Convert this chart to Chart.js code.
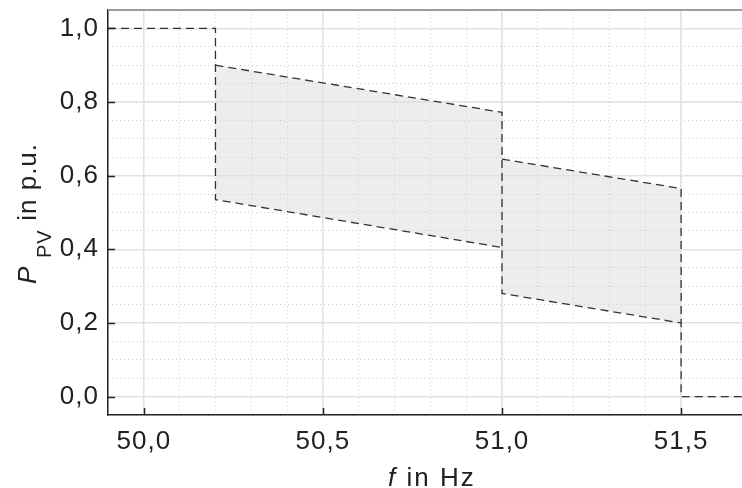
<!DOCTYPE html>
<html>
<head>
<meta charset="utf-8">
<script src="https://cdn.jsdelivr.net/npm/chart.js@4"></script>
<style>
  html, body { margin: 0; padding: 0; background: #fff; }
</style>
</head>
<body>
<canvas id="pvChart" width="742" height="488"></canvas>
<script>
// Achsenbereiche und Beschriftungen
const freqRange = [49.9, 51.67];
const powerRange = [-0.05, 1.05];
const xTicks = [50.0, 50.5, 51.0, 51.5];
const yTicks = [0.0, 0.2, 0.4, 0.6, 0.8, 1.0];

// Band (Frequenz, obere und untere Grenze)
const bandFreq = [50.2, 51.0, 51.0, 51.5];
const bandUpper = [0.9, 0.772, 0.645, 0.565];
const bandLower = [0.535, 0.405, 0.28, 0.2];

// Stufen vor und nach dem Band
const startPower = 1.0;
const endPower = 0.0;

const FONT = '"Liberation Sans", Arial, sans-serif';
const TEXT = '#222';
const SPACING = '1px';

const pts = (ys) => bandFreq.map((f, i) => ({ x: f, y: ys[i] }));
const fmt = (v) => v.toFixed(1).replace('.', ',');

// gestrichelte Umrandung: untere Kurve inkl. Stufen
const outlineLower = [
  { x: freqRange[0], y: startPower },
  { x: bandFreq[0], y: startPower },
  ...pts(bandLower),
  { x: bandFreq[3], y: endPower },
  { x: freqRange[1], y: endPower },
];
// obere Kurve inkl. senkrechter Sprünge
const outlineUpper = [
  { x: bandFreq[0], y: bandUpper[0] },
  { x: bandFreq[1], y: bandUpper[1] },
  { x: bandFreq[1], y: bandLower[1] },
  { x: bandFreq[1], y: null },
  { x: bandFreq[2], y: bandUpper[2] },
  { x: bandFreq[3], y: bandUpper[3] },
  { x: bandFreq[3], y: bandLower[3] },
];

const dashed = {
  borderColor: '#333',
  borderWidth: 1.3,
  borderDash: [8, 5],
  pointRadius: 0,
  fill: false,
  spanGaps: false,
};

// etwas breitere Schrift wie im Original
const spacingPlugin = {
  id: 'spacing',
  beforeUpdate(chart) { chart.ctx.letterSpacing = SPACING; },
  beforeDraw(chart) { chart.ctx.letterSpacing = SPACING; },
};

const decorPlugin = {
  id: 'decor',
  afterDraw(chart) {
    const { ctx, chartArea: a, scales: { x, y } } = chart;
    ctx.save();
    // oberer Rahmen
    ctx.strokeStyle = '#9c9c9c';
    ctx.lineWidth = 2;
    ctx.beginPath();
    ctx.moveTo(a.left, a.top);
    ctx.lineTo(a.right, a.top);
    ctx.stroke();
    // Ticks nach innen
    ctx.strokeStyle = TEXT;
    ctx.lineWidth = 1.5;
    ctx.beginPath();
    xTicks.forEach(v => {
      const px = Math.round(x.getPixelForValue(v)) + 0.5;
      ctx.moveTo(px, a.bottom);
      ctx.lineTo(px, a.bottom - 7);
    });
    yTicks.forEach(v => {
      const py = Math.round(y.getPixelForValue(v)) + 0.5;
      ctx.moveTo(a.left, py);
      ctx.lineTo(a.left + 7, py);
    });
    ctx.stroke();

    // Achsentitel
    ctx.fillStyle = TEXT;
    ctx.textBaseline = 'alphabetic';
    ctx.textAlign = 'left';
    const big = '26px ' + FONT, bigIt = 'italic 26px ' + FONT, small = '20px ' + FONT;

    // x: "f in Hz"
    ctx.letterSpacing = '2px';
    ctx.font = bigIt;
    ctx.fillText('f', 388, 486);
    ctx.font = big;
    ctx.fillText(' in Hz', 388 + ctx.measureText('f').width, 486);

    // y: "P_PV in p.u."
    ctx.letterSpacing = '1px';
    ctx.translate(36, 283);
    ctx.rotate(-Math.PI / 2);
    ctx.font = bigIt;
    ctx.fillText('P', -1, 0);
    ctx.font = small;
    ctx.fillText('PV', 25, 15);
    ctx.font = big;
    ctx.fillText(' in p.u.', 54, 0);
    ctx.restore();
  }
};

new Chart(document.getElementById('pvChart'), {
  type: 'line',
  data: {
    datasets: [
      { ...dashed, data: outlineLower },
      { ...dashed, data: outlineUpper },
      {
        data: pts(bandUpper),
        borderWidth: 0,
        pointRadius: 0,
        backgroundColor: '#ededed',
        fill: '+1',
      },
      {
        data: pts(bandLower),
        borderWidth: 0,
        pointRadius: 0,
        fill: false,
      },
    ],
  },
  options: {
    responsive: false,
    animation: false,
    layout: { padding: { top: 10, right: 0, left: 0, bottom: 0 } },
    plugins: {
      legend: { display: false },
      tooltip: { enabled: false },
      filler: { drawTime: 'beforeDraw' },
    },
    scales: {
      xMinor: {
        type: 'linear',
        position: 'bottom',
        min: freqRange[0],
        max: freqRange[1],
        z: -1,
        ticks: { stepSize: 0.1, display: false },
        grid: { color: '#cfcfcf', lineWidth: 1, drawTicks: false },
        border: { display: false, dash: [1, 3] },
        afterFit: s => { s.height = 0; s.paddingLeft = 0; s.paddingRight = 0; },
      },
      yMinor: {
        type: 'linear',
        position: 'left',
        min: powerRange[0],
        max: powerRange[1],
        z: -1,
        ticks: { stepSize: 0.05, display: false },
        grid: { color: '#cfcfcf', lineWidth: 1, drawTicks: false },
        border: { display: false, dash: [1, 3] },
        afterFit: s => { s.width = 0; s.paddingTop = 0; s.paddingBottom = 0; },
      },
      x: {
        type: 'linear',
        position: 'bottom',
        min: freqRange[0],
        max: freqRange[1],
        afterBuildTicks: s => { s.ticks = xTicks.map(v => ({ value: v })); },
        ticks: {
          callback: v => fmt(v),
          font: { family: FONT, size: 26 },
          color: TEXT,
          padding: 11,
          maxRotation: 0,
        },
        grid: { color: '#e2e2e2', lineWidth: 1.5, drawTicks: false },
        border: { color: TEXT, width: 1.5 },
        afterFit: s => { s.height = 73; s.paddingLeft = 0; s.paddingRight = 0; },
      },
      y: {
        type: 'linear',
        position: 'left',
        min: powerRange[0],
        max: powerRange[1],
        afterBuildTicks: s => { s.ticks = yTicks.map(v => ({ value: v })); },
        ticks: {
          callback: v => fmt(v),
          font: { family: FONT, size: 26 },
          color: TEXT,
          padding: 9,
        },
        grid: { color: '#e2e2e2', lineWidth: 1.5, drawTicks: false },
        border: { color: TEXT, width: 1.5 },
        afterFit: s => { s.width = 108; s.paddingTop = 0; s.paddingBottom = 0; },
      },
    },
  },
  plugins: [spacingPlugin, decorPlugin],
});
</script>
</body>
</html>
